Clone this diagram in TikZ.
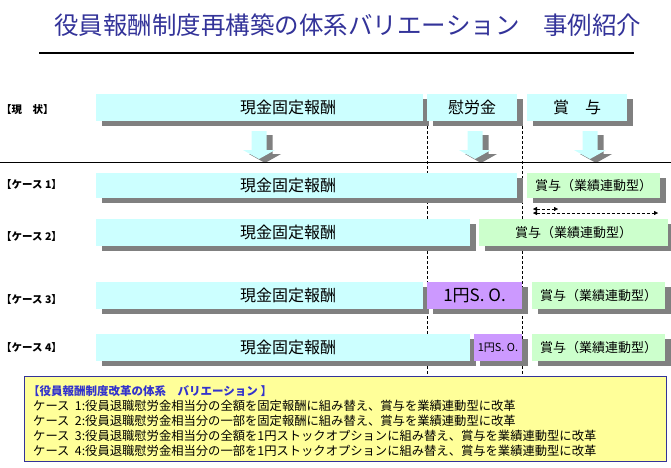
\documentclass[tikz,border=0pt]{standalone}
\usepackage{fontspec}
\setmainfont{Noto Sans CJK JP}
\usepackage{tikz}
\usetikzlibrary{arrows.meta, positioning, shadows, backgrounds}
\usepackage{xcolor}
\definecolor{cFix}{HTML}{CCFFFF}
\definecolor{cBonus}{HTML}{CCFFCC}
\definecolor{cSO}{HTML}{CC99FF}
\definecolor{cShade}{HTML}{808080}
\definecolor{cNote}{HTML}{FFFF99}
\definecolor{cNavy}{HTML}{333399}
\definecolor{cHead}{HTML}{3333CC}

\begin{document}
\begin{tikzpicture}[
  x=1pt, y=-1pt,
  blk/.style={anchor=north west, inner sep=0pt, outer sep=0pt, minimum height=27pt,
    drop shadow={shadow xshift=5.5pt, shadow yshift=-5pt, fill=cShade, opacity=1}},
  fix/.style={blk, fill=cFix},
  bonus/.style={blk, fill=cBonus, font=\fontsize{13}{13}\selectfont},
  so/.style={blk, fill=cSO},
  boxtxt/.style={font=\fontsize{16}{16}\selectfont, inner sep=0pt},
  rowlab/.style={anchor=west, inner sep=0pt, font=\bfseries\fontsize{10.5}{10.5}\selectfont},
  note/.style={anchor=west, inner sep=0pt, font=\fontsize{12.3}{12.3}\selectfont},
  vline/.style={dash pattern=on 3pt off 2pt, line width=0.6pt},
]
\useasboundingbox (0,0) rectangle (671,467);
\clip (0,0) rectangle (671,467);

% title
\node[font=\fontsize{24.5}{24.5}\selectfont, text=cNavy] (title) at (348,25)
  {役員報酬制度再構築の体系バリエーション\hspace{24pt}事例紹介};
\coordinate (ulA) at (39,53);
\coordinate (ulB) at (634,53);
\draw[line width=1.2pt] (ulA) -- (ulB);

% row labels
\node[rowlab] (lab0) at (1,110) {【現　状】};
\node[rowlab] (lab1) at (1,185) {【ケース\ 1】};
\node[rowlab] (lab2) at (1,237) {【ケース\ 2】};
\node[rowlab] (lab3) at (1,299) {【ケース\ 3】};
\node[rowlab] (lab4) at (1,347) {【ケース\ 4】};

% current state
\node[fix, minimum width=327pt] (fix0) at (96,94) {};
\node[boxtxt] (fix0t) at (288,107.5) {現金固定報酬};
\node[fix, boxtxt, minimum width=90pt] (ret0) at (427,94) {慰労金};
\node[fix, boxtxt, minimum width=100pt] (bon0) at (527,94) {賞\hspace{1em}与};

% down arrows
\foreach \cx in {259,475,590}{
  \fill[cShade, shift={(\cx+6,4)}] (-7.5,131) -- (7.5,131) -- (7.5,150) -- (16,150)
    -- (0,159) -- (-16,150) -- (-7.5,150) -- cycle;
  \fill[cFix, shift={(\cx,0)}] (-7.5,131) -- (7.5,131) -- (7.5,150) -- (16,150)
    -- (0,159) -- (-16,150) -- (-7.5,150) -- cycle;
}
\coordinate (sepL) at (0,162);
\coordinate (sepR) at (671,162);
\draw[line width=1pt] (sepL) -- (sepR);

% case 1
\node[fix, minimum width=421pt, minimum height=25pt] (fix1) at (96,173) {};
\node[boxtxt] (fix1t) at (288,185.5) {現金固定報酬};
\node[bonus, minimum width=133pt, minimum height=25pt] (bon1) at (527,173) {賞与（業績連動型）};
\coordinate (dA1) at (533,209);
\coordinate (dA2) at (558,209);
\coordinate (dB1) at (533,213);
\coordinate (dB2) at (658,213);
\draw[densely dashed, {Triangle[length=4pt,width=4pt]}-{Triangle[length=4pt,width=4pt]}] (dA1) -- (dA2);
\draw[densely dashed, {Triangle[length=4pt,width=4pt]}-{Triangle[length=4pt,width=4pt]}] (dB1) -- (dB2);

% case 2
\node[fix, minimum width=374pt] (fix2) at (96,219) {};
\node[boxtxt] (fix2t) at (288,232.5) {現金固定報酬};
\node[bonus, minimum width=189pt] (bon2) at (479,219) {賞与（業績連動型）};

% case 3
\node[fix, minimum width=327pt] (fix3) at (96,282) {};
\node[boxtxt] (fix3t) at (288,295.5) {現金固定報酬};
\node[so, minimum width=95pt, font=\fontsize{17}{17}\selectfont] (so3) at (427,282) {1円S. O.};
\node[bonus, minimum width=133pt] (bon3) at (532,282) {賞与（業績連動型）};

% case 4
\node[fix, minimum width=374pt] (fix4) at (96,334) {};
\node[boxtxt] (fix4t) at (288,347.5) {現金固定報酬};
\node[so, minimum width=48pt, font=\fontsize{11}{11}\selectfont] (so4) at (474,334) {1円S. O.};
\node[bonus, minimum width=133pt] (bon4) at (532,334) {賞与（業績連動型）};

% notes
\node[draw=cNavy, line width=1pt, fill=cNote, anchor=north west, inner sep=0pt,
  minimum width=642pt, minimum height=85pt] (note) at (24,376) {};
\node[note, text=cHead, font=\bfseries\fontsize{11.5}{11.5}\selectfont] (n0) at (28,391)
  {【役員報酬制度改革の体系　バリエーション 】};
\node[note] (n1) at (33,405.5) {ケース\ \ 1:役員退職慰労金相当分の全額を固定報酬に組み替え、賞与を業績連動型に改革};
\node[note] (n2) at (33,420.5) {ケース\ \ 2:役員退職慰労金相当分の一部を固定報酬に組み替え、賞与を業績連動型に改革};
\node[note] (n3) at (33,435.5) {ケース\ \ 3:役員退職慰労金相当分の全額を1円ストックオプションに組み替え、賞与を業績連動型に改革};
\node[note] (n4) at (33,450.5) {ケース\ \ 4:役員退職慰労金相当分の一部を1円ストックオプションに組み替え、賞与を業績連動型に改革};

% boundaries of the 1-yen S.O. column
\begin{scope}[on background layer]
  \draw[vline] (so3.north west |- ret0.south) -- (so3.north west |- note.north);
  \draw[vline] (so3.north east |- ret0.south) -- (so3.north east |- note.north);
\end{scope}
\end{tikzpicture}
\end{document}
